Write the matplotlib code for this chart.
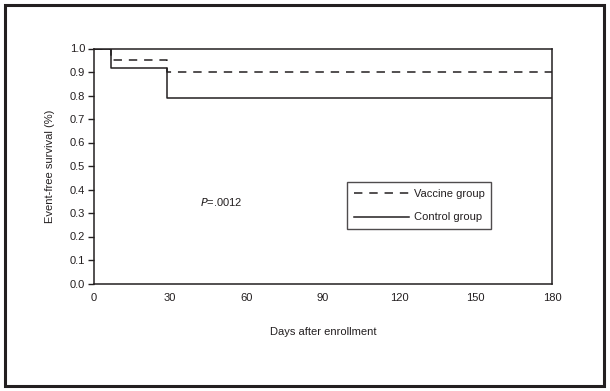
import matplotlib
matplotlib.use('Agg')
import matplotlib.pyplot as plt
from matplotlib.patches import Rectangle

plt.rcParams['font.family'] = ['Liberation Sans Narrow', 'Liberation Sans', 'DejaVu Sans']

# Kaplan-Meier step data (days, event-free survival)
vaccine_days = [0, 7, 29, 180]
vaccine_surv = [1.0, 0.95, 0.90, 0.90]
control_days = [0, 7, 29, 180]
control_surv = [1.0, 0.915, 0.79, 0.79]

x_ticks = [0, 30, 60, 90, 120, 150, 180]
y_ticks = [0.0, 0.1, 0.2, 0.3, 0.4, 0.5, 0.6, 0.7, 0.8, 0.9, 1.0]

fig = plt.figure(figsize=(6.10, 3.91), dpi=100)
W, H = 610, 391

# outer frame
fig.patches.append(Rectangle((5 / W, 1 - 386 / H), 599 / W, 381 / H,
                             transform=fig.transFigure, fill=False,
                             lw=2.2, ec='#231f20'))

ax = fig.add_axes([93.5 / W, 1 - 283.5 / H, (552 - 93.5) / W, (283.5 - 48.5) / H])
ax.step(vaccine_days, vaccine_surv, where='post', color='#231f20', lw=1.1,
        ls=(0, (5.5, 4.5)), label='Vaccine group')
ax.step(control_days, control_surv, where='post', color='#231f20', lw=1.1,
        label='Control group')

ax.set_xlim(0, 180)
ax.set_ylim(0, 1.0)
ax.set_xticks(x_ticks)
ax.set_yticks(y_ticks)
ax.set_yticklabels(['%.1f' % v for v in y_ticks])
for s in ax.spines.values():
    s.set_linewidth(1.1)
    s.set_color('#231f20')
ax.tick_params(axis='y', length=4, width=1, colors='#231f20', labelsize=8, pad=2)
ax.tick_params(axis='x', length=0, labelsize=8, pad=7, colors='#231f20')

ax.set_xlabel('Days after enrollment', fontsize=8, labelpad=17, color='#231f20')
ax.set_ylabel('Event-free survival (%)', fontsize=8, labelpad=11, color='#231f20')

ax.text(0.232, 0.347, r'$\it{P}$=.0012', transform=ax.transAxes, fontsize=8,
        va='center', color='#231f20')

leg = ax.legend(loc='upper left', bbox_to_anchor=(0.553, 0.43), fontsize=8,
                frameon=True, fancybox=False, handlelength=5, handletextpad=0.4,
                borderpad=0.6, labelspacing=1.2, borderaxespad=0)
leg.get_frame().set_edgecolor('#231f20')
leg.get_frame().set_linewidth(1.0)
for t in leg.get_texts():
    t.set_color('#231f20')

fig.savefig('out.png', dpi=100)
